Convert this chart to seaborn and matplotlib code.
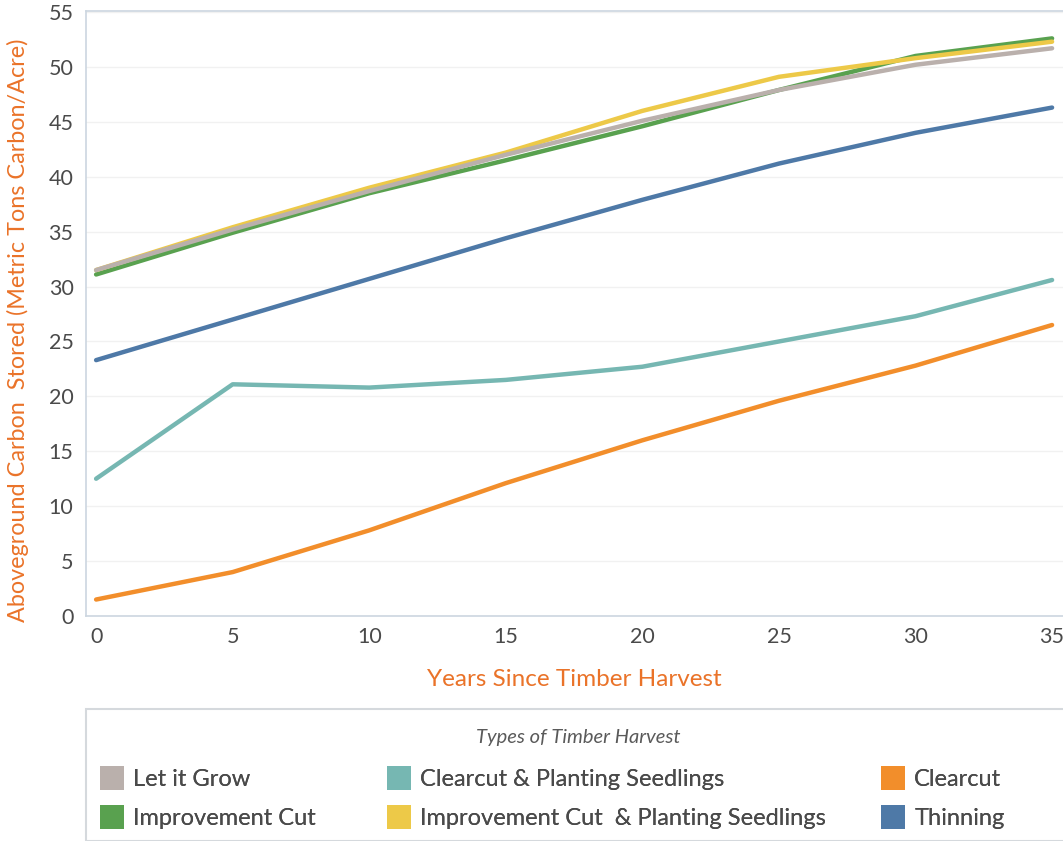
import matplotlib
matplotlib.use("Agg")
import matplotlib.pyplot as plt
from matplotlib.patches import Patch, Rectangle
import pandas as pd
import seaborn as sns

years = [0, 5, 10, 15, 20, 25, 30, 35]
let_it_grow = [31.5, 35.2, 38.7, 42.0, 45.1, 47.9, 50.2, 51.7]
improvement_cut = [31.1, 34.9, 38.5, 41.5, 44.6, 47.9, 51.0, 52.6]
improvement_planting = [31.5, 35.4, 39.0, 42.2, 46.0, 49.1, 50.8, 52.3]
thinning = [23.3, 27.0, 30.7, 34.4, 37.9, 41.2, 44.0, 46.3]
clearcut_planting = [12.5, 21.1, 20.8, 21.5, 22.7, 25.0, 27.3, 30.6]
clearcut = [1.5, 4.0, 7.8, 12.1, 16.0, 19.6, 22.8, 26.5]

series_names = ["Let it Grow", "Improvement Cut", "Clearcut & Planting Seedlings",
                "Improvement Cut  & Planting Seedlings", "Clearcut", "Thinning"]
series_values = [let_it_grow, improvement_cut, clearcut_planting,
                 improvement_planting, clearcut, thinning]
palette = {
    "Let it Grow": "#bab0ac",
    "Improvement Cut": "#59a14f",
    "Clearcut & Planting Seedlings": "#76b7b2",
    "Improvement Cut  & Planting Seedlings": "#edc948",
    "Clearcut": "#f28e2b",
    "Thinning": "#4e79a7",
}
draw_order = ["Clearcut", "Clearcut & Planting Seedlings", "Thinning",
              "Improvement Cut", "Improvement Cut  & Planting Seedlings", "Let it Grow"]
y_ticks = [0, 5, 10, 15, 20, 25, 30, 35, 40, 45, 50, 55]
x_ticks = [0, 5, 10, 15, 20, 25, 30, 35]

df = pd.DataFrame(
    [(yr, name, v) for name, vals in zip(series_names, series_values)
     for yr, v in zip(years, vals)],
    columns=["year", "harvest", "carbon"],
)

sns.set_theme(style="white")
plt.rcParams["font.family"] = ["Lato", "DejaVu Sans"]

TEXT = "#4a4a4a"
ORANGE = "#ea7329"
W, H = 1063, 841

fig = plt.figure(figsize=(W / 100, H / 100), dpi=100)
ax = fig.add_axes([86 / W, 1 - 616 / H, 1 - 86 / W, (616 - 10.5) / H])

for name in draw_order:
    sub = df[df["harvest"] == name]
    sns.lineplot(data=sub, x="year", y="carbon", color=palette[name],
                 linewidth=3.2, ax=ax, legend=False, solid_capstyle="round")

ax.set_xlim(-0.37, 35.4)
ax.set_ylim(0, 55.14)
ax.set_xticks(x_ticks)
ax.set_yticks(y_ticks)
ax.grid(axis="y", color="#f1f1f1", linewidth=1)
ax.tick_params(axis="y", labelsize=15.5, colors=TEXT, length=0, pad=9)
ax.tick_params(axis="x", labelsize=15.5, colors=TEXT, length=0, pad=8)
for s in ["top", "left", "bottom"]:
    ax.spines[s].set_color("#ccd6e0")
    ax.spines[s].set_linewidth(1.2)
ax.spines["right"].set_visible(False)

ax.set_xlabel("Years Since Timber Harvest", color=ORANGE, fontsize=17.5,
              labelpad=16)
ax.set_ylabel("Aboveground Carbon  Stored (Metric Tons Carbon/Acre)",
              color=ORANGE, fontsize=16.8)
ax.yaxis.set_label_coords(-57 / (W - 86), (616 - 330) / (616 - 10.5))

# legend panel
fig.patches.append(Rectangle((86 / W, 0), 1.0, (H - 709) / H,
                             transform=fig.transFigure, fill=False,
                             edgecolor="#d5d9dd", linewidth=1.5))
fig.text(578 / W, 1 - 738 / H, "Types of Timber Harvest", ha="center",
         va="center", fontsize=14.5, style="italic", color="#5a5a5a")

# three legend columns, each placed at its own left edge
column_x = [79, 366, 860]
for col, x0 in enumerate(column_x):
    names = series_names[2 * col:2 * col + 2]
    handles = [Patch(facecolor=palette[n], edgecolor="none") for n in names]
    leg = fig.legend(handles, names, loc="upper left", ncol=1,
                     bbox_to_anchor=(x0 / W, 1 - 745 / H), frameon=False,
                     fontsize=17, handlelength=1.0, handleheight=1.2,
                     handletextpad=0.4, labelspacing=0.6, labelcolor=TEXT)
    fig.add_artist(leg)

fig.savefig("out.png", dpi=100)
